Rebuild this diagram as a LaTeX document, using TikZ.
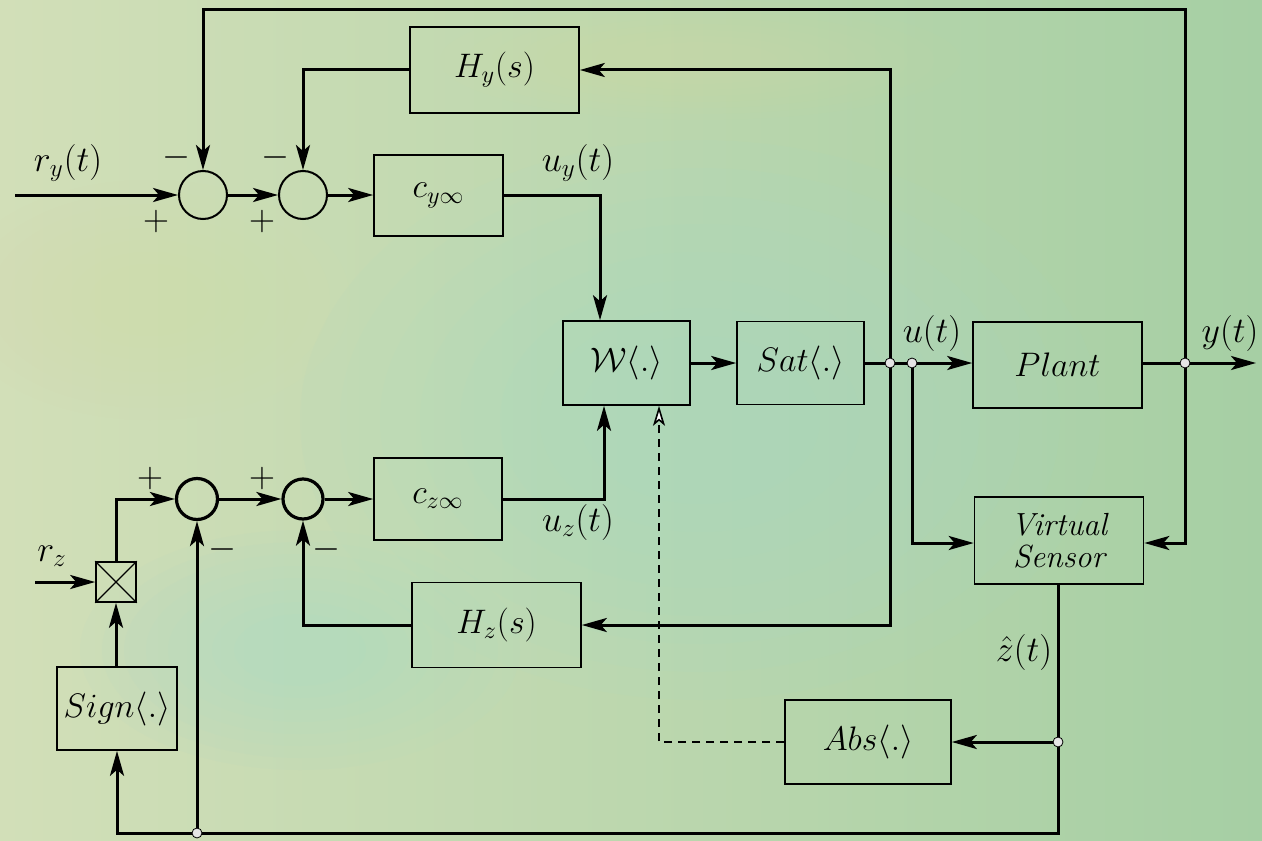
\RequirePackage{fix-cm}
\documentclass[tikz,border=0pt]{standalone}
\usetikzlibrary{arrows.meta,calc}
\definecolor{bgA}{HTML}{D2DFB8}
\definecolor{bgB}{HTML}{A6CFA4}
\definecolor{bgC}{HTML}{A2DAD2}
\definecolor{bgD}{HTML}{DCDCA8}
\begin{document}
\begin{tikzpicture}[x=0.5pt,y=-0.5pt,
  font=\fontsize{18}{21}\selectfont,
  blk/.style={draw, rectangle, line width=0.8pt, inner sep=0pt, font=\fontsize{17}{20}\selectfont},
  sumc/.style={draw, circle, line width=1pt, inner sep=0pt},
  sumz/.style={draw, circle, line width=1.6pt, inner sep=0pt, minimum size=20.5pt},
  ln/.style={line width=1.5pt},
  arr/.style={line width=1.5pt, -{Stealth[length=12.5pt,width=7pt,inset=3pt]}},
  oarr/.style={line width=0.8pt, dash pattern=on 4pt off 3pt, -{Stealth[length=10pt,width=6pt,inset=2.5pt,open,fill=white]}},
  jn/.style={circle, draw, line width=0.4pt, fill=white!80!gray, minimum size=5pt, inner sep=0pt},
  lbl/.style={inner sep=0pt}]
% background
\useasboundingbox (0,0) rectangle (1262,840);
\shade[left color=bgA, right color=bgB] (0,0) rectangle (1262,840);
\foreach \r in {1,0.9,...,0.2} {
  \fill[bgC, opacity=0.06] (700,420) ellipse ({400*\r} and {280*\r});
  \fill[bgD, opacity=0.05] (150,300) ellipse ({200*\r} and {120*\r});
  \fill[bgC, opacity=0.06] (300,650) ellipse ({220*\r} and {120*\r});
  \fill[bgD, opacity=0.04] (700,60) ellipse ({260*\r} and {60*\r});
}
% blocks
\node[blk, minimum width=84.5pt, minimum height=43pt] (hy) at (494.5,70) {$H_y(s)$};
\node[blk, minimum width=64.5pt, minimum height=40.5pt] (cy) at (438.5,195.5) {$c_{y\infty}$};
\node[blk, minimum width=63.5pt, minimum height=42pt] (W) at (626.5,363) {$\mathcal{W}\langle.\rangle$};
\node[blk, minimum width=63.5pt, minimum height=41.5pt] (sat) at (800.5,363) {$Sat\langle.\rangle$};
\node[blk, minimum width=84.5pt, minimum height=43pt] (plant) at (1057.5,365) {$Plant$};
\node[blk, minimum width=84.5pt, minimum height=43.5pt, align=center, font=\fontsize{16}{16}\selectfont\itshape] (vs) at (1059,540.5) {Virtual\\Sensor};
\node[blk, minimum width=64pt, minimum height=41pt] (cz) at (438,499) {$c_{z\infty}$};
\node[blk, minimum width=84.5pt, minimum height=42.5pt] (hz) at (496.5,625) {$H_z(s)$};
\node[blk, minimum width=60pt, minimum height=41.5pt] (sign) at (117,708.5) {$Sign\langle.\rangle$};
\node[blk, minimum width=83pt, minimum height=42pt] (abs) at (868,742) {$Abs\langle.\rangle$};
\node[blk, minimum width=20pt, minimum height=20pt] (mult) at (116,582) {};
\draw[line width=0.6pt] (mult.north west) -- (mult.south east) (mult.north east) -- (mult.south west);
% summing junctions
\node[sumc, minimum size=24pt] (s1) at (203,195) {};
\node[sumc, minimum size=24pt] (s2) at (303,195) {};
\node[sumz] (s3) at (197,499) {};
\node[sumz, minimum size=20pt] (s4) at (303,499) {};
% sign labels
\node[lbl] at (176,157) {$-$};
\node[lbl] at (156,222) {$+$};
\node[lbl] at (275,157) {$-$};
\node[lbl] at (262,222) {$+$};
\node[lbl] at (150,478) {$+$};
\node[lbl] at (222,549) {$-$};
\node[lbl] at (262,478) {$+$};
\node[lbl] at (326,549) {$-$};
% junction points
\coordinate (js) at (890,363);
\coordinate (ju) at (912,363);
\coordinate (jy) at (1185,363);
\coordinate (jz) at (1058,742);
\coordinate (jb) at (197,833);
\coordinate (topy) at (0,10);
\coordinate (bot) at (0,833);
\coordinate (ryin) at (15,195);
\coordinate (rzin) at (35,582);
\coordinate (yout) at (1256,363);
% connectors
\draw[arr] (ryin) -- (s1);
\draw[arr] (s1) -- (s2);
\draw[arr] (s2) -- (s2 -| cy.west);
\draw[arr] (jy) -- (jy |- topy) -- (s1 |- topy) -- (s1.north);
\draw[arr] (js) |- (hy.east);
\draw[arr] (hy.west) -| (s2.north);
\draw[arr] (cy.east) -| ([xshift=-13.25pt]W.north);
\draw[arr] (cz.east) -| ([xshift=-11.25pt]W.south);
\draw[arr] (W) -- (sat);
\draw[ln] (sat.east) -- (js) -- (ju);
\draw[arr] (ju) -- (ju -| plant.west);
\draw[arr] (js) |- (hz.east);
\draw[arr] (ju) |- ([yshift=-1.25pt]vs.west);
\draw[ln] (plant.east |- jy) -- (jy);
\draw[arr] (jy) -- (yout);
\draw[arr] (jy) |- ([yshift=-1.25pt]vs.east);
\draw[ln] (jz |- vs.south) -- (jz);
\draw[arr] (jz) -- (abs.east);
\draw[arr] (jz) -- (jz |- bot) -| (sign.south);
\draw[arr] (jb) -- (s3.south);
\draw[oarr] (abs.west) -| ([xshift=16.25pt]W.south);
\draw[arr] (hz.west) -| (s4.south);
\draw[arr] (sign.north -| mult) -- (mult.south);
\draw[arr] (rzin) -- (mult.west);
\draw[arr] (mult.north) |- (s3.west);
\draw[arr] (s3) -- (s4);
\draw[arr] (s4) -- (s4 -| cz.west);
% junction dots
\foreach \j in {js,ju,jy,jz,jb} \node[jn] at (\j) {};
% signal labels
\node[lbl] at (68,163) {$r_y(t)$};
\node[lbl] at (578,163) {$u_y(t)$};
\node[lbl] at (578,522) {$u_z(t)$};
\node[lbl] at (932,333) {$u(t)$};
\node[lbl] at (1230,333) {$y(t)$};
\node[lbl] at (1024,652) {$\hat{z}(t)$};
\node[lbl] at (52,556) {$r_z$};
\end{tikzpicture}
\end{document}
